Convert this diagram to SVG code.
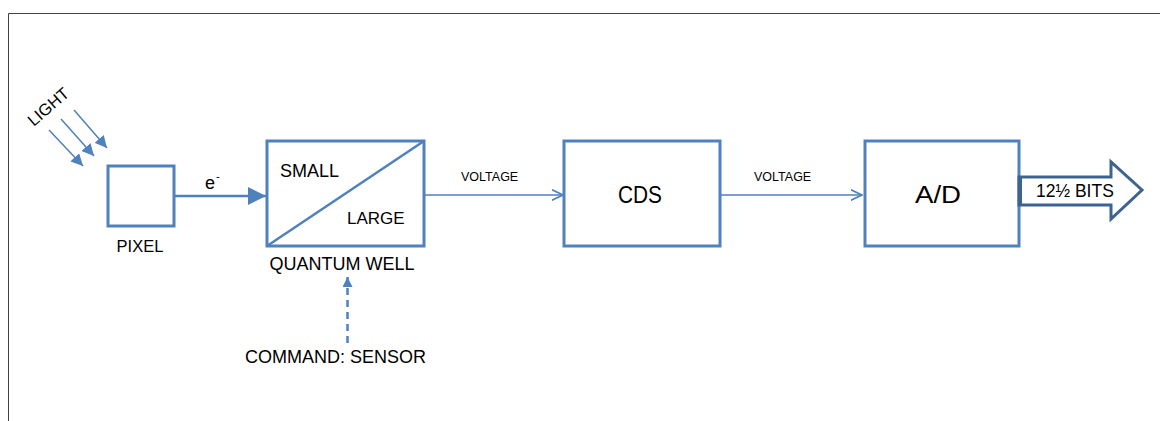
<svg xmlns="http://www.w3.org/2000/svg" width="1160" height="421" viewBox="0 0 1160 421">
<defs>
<style>
.box{fill:#fff;stroke:#4f81bd;stroke-width:3}
.ln{fill:none;stroke:#4f81bd;stroke-width:2.5}
.thin{fill:none;stroke:#4f81bd;stroke-width:1.5}
.t{font-family:"Liberation Sans",Arial,sans-serif;fill:#000}
</style>
<marker id="tri" viewBox="0 0 10 10" refX="10" refY="5" markerWidth="7" markerHeight="7" markerUnits="userSpaceOnUse" orient="auto"><path d="M0,0 L10,5 L0,10 Z" fill="#4f81bd"/></marker>
<marker id="triBig" viewBox="0 0 10 10" refX="10" refY="5" markerWidth="18" markerHeight="18" markerUnits="userSpaceOnUse" orient="auto"><path d="M0,0 L10,5 L0,10 Z" fill="#4f81bd"/></marker>
<marker id="triLight" viewBox="0 0 10 10" refX="10" refY="5" markerWidth="12" markerHeight="12" markerUnits="userSpaceOnUse" orient="auto"><path d="M0,0 L10,5 L0,10 Z" fill="#4f81bd"/></marker>
<marker id="triDash" viewBox="0 0 10 10" refX="10" refY="5" markerWidth="10" markerHeight="10" markerUnits="userSpaceOnUse" orient="auto"><path d="M0,0 L10,5 L0,10 Z" fill="#4f81bd"/></marker>
<marker id="open" viewBox="0 0 10 10" refX="9.5" refY="5" markerWidth="12" markerHeight="12" markerUnits="userSpaceOnUse" orient="auto"><path d="M0,0.5 L9.5,5 L0,9.5" fill="none" stroke="#4f81bd" stroke-width="1.4"/></marker>
</defs>
<rect width="1160" height="421" fill="#fff"/>
<path d="M8.5,421 V13.5 H1160" fill="none" stroke="#404040" stroke-width="1"/>

<g id="light">
<text class="t" font-size="16.5" transform="translate(52,111) rotate(-41)" text-anchor="middle">LIGHT</text>
<line class="thin" x1="49" y1="130" x2="83" y2="166" marker-end="url(#triLight)"/>
<line class="thin" x1="61" y1="119" x2="94" y2="156" marker-end="url(#triLight)"/>
<line class="thin" x1="74" y1="110" x2="107" y2="148" marker-end="url(#triLight)"/>
</g>

<g id="pixel">
<rect class="box" x="108" y="166" width="66" height="60"/>
<text class="t" font-size="16.5" x="140" y="252" text-anchor="middle">PIXEL</text>
</g>

<g id="quantum-well">
<rect class="box" x="267" y="141" width="157" height="105"/>
<line class="ln" x1="267" y1="246" x2="424" y2="141"/>
<text class="t" font-size="18" x="280" y="177">SMALL</text>
<text class="t" font-size="17" x="347" y="224">LARGE</text>
<text class="t" font-size="18" x="342" y="270" text-anchor="middle">QUANTUM WELL</text>
</g>

<g id="command">
<text class="t" font-size="18" x="245" y="363">COMMAND: SENSOR</text>
</g>

<g id="cds">
<rect class="box" x="564" y="141" width="156" height="105"/>
<text class="t" font-size="24" x="618" y="203" textLength="44" lengthAdjust="spacingAndGlyphs">CDS</text>
</g>

<g id="ad">
<rect class="box" x="865" y="141" width="154" height="105"/>
<text class="t" font-size="23" x="915" y="203" textLength="46" lengthAdjust="spacingAndGlyphs">A/D</text>
</g>

<g id="bits">
<path d="M1019,177 H1111 V162 L1142,190 L1111,219 V205 H1019 Z" fill="#fff" stroke="#3d6491" stroke-width="3" stroke-linejoin="miter"/>
<line x1="1020" y1="176" x2="1020" y2="206" stroke="#3d6491" stroke-width="4"/>
<text class="t" font-size="17.5" x="1036" y="197">12½ BITS</text>
</g>

<g id="connectors">
<line class="ln" x1="175" y1="196" x2="266" y2="196" marker-end="url(#triBig)"/>
<text class="t" font-size="18" x="205" y="189">e</text>
<text class="t" font-size="11" x="216" y="180">-</text>
<line class="thin" x1="424" y1="195" x2="563" y2="195" stroke-width="2" marker-end="url(#open)"/>
<text class="t" font-size="12.5" x="461" y="181">VOLTAGE</text>
<line class="thin" x1="720" y1="195" x2="862" y2="195" stroke-width="2" marker-end="url(#open)"/>
<text class="t" font-size="12.5" x="754" y="181">VOLTAGE</text>
<line class="ln" x1="347.5" y1="343" x2="347.5" y2="277" stroke-width="3" stroke-dasharray="7,5" marker-end="url(#triDash)"/>
</g>
</svg>
